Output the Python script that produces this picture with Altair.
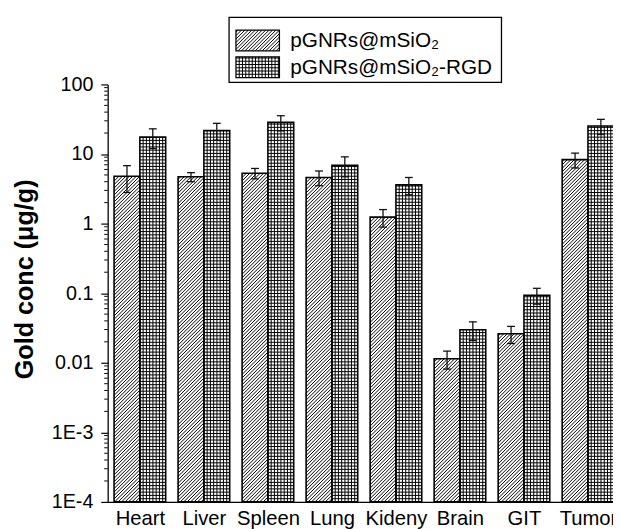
import math
import json
import altair as alt
import pandas as pd

# ---------------- data ----------------
organs = ["Heart", "Liver", "Spleen", "Lung", "Kideny", "Brain", "GIT", "Tumor"]
series_names = ["pGNRs@mSiO\u2082", "pGNRs@mSiO\u2082-RGD"]
plain_mean = [4.8, 4.7, 5.3, 4.6, 1.24, 0.0114, 0.0261, 8.3]
plain_err = [2.0, 0.7, 0.9, 1.1, 0.35, 0.0033, 0.0072, 2.0]
rgd_mean = [17.5, 21.7, 28.5, 6.9, 3.6, 0.0298, 0.0935, 25.3]
rgd_err = [5.5, 5.9, 7.0, 2.2, 1.0, 0.0089, 0.024, 6.2]
y_tick_values = [1e-4, 1e-3, 1e-2, 0.1, 1, 10, 100]
y_tick_labels = ["1E-4", "1E-3", "0.01", "0.1", "1", "10", "100"]
y_title = "Gold conc (\u03bcg/g)"

# ---------------- layout ----------------
FONT = "Liberation Sans"
PAD_L, PAD_T, PAD_R, PAD_B = 101, 74, 0, 24
W, H = 512, 423
STEP = 64.86          # px per organ group
OUTER = 0.1           # outer padding (in steps)
BAR = 0.403           # bar width (in steps)
YMIN, YMAX = y_tick_values[0], y_tick_values[-1]
LMIN = math.log10(YMIN)
DEC = math.log10(YMAX) - LMIN
DIAG_P = 3.5
GRID_P = 3.3


def ypx(v):
    return (math.log10(v) - LMIN) / DEC * H


def yval(p):
    return 10 ** (p / H * DEC + LMIN)


def hatch_diag(x0, x1, y0, y1, p):
    out = []
    dmin, dmax = x0 - y1, x1 - y0
    k = math.ceil(dmin / p)
    while k * p < dmax:
        d = k * p
        xs = max(x0, y0 + d)
        xe = min(x1, y1 + d)
        if xe - xs > 0.05:
            out.append((xs, xs - d, xe, xe - d))
        k += 1
    return out


def hatch_grid(x0, x1, y0, y1, g):
    out = []
    x = x0 + g
    while x < x1 - 0.4:
        out.append((x, y0, x, y1))
        x += g
    y = y0 + g
    while y < y1 - 0.4:
        out.append((x0, y, x1, y))
        y += g
    return out


rows = []
for s, (means, errs) in enumerate([(plain_mean, plain_err), (rgd_mean, rgd_err)]):
    for i, o in enumerate(organs):
        u0 = i + OUTER + s * BAR
        rows.append(dict(organ=o, series=series_names[s], s=s, u0=u0, u1=u0 + BAR,
                         uc=u0 + BAR / 2, c0=u0 + BAR / 2 - 4 / STEP, c1=u0 + BAR / 2 + 4 / STEP,
                         v=means[i], lo=means[i] - errs[i], hi=means[i] + errs[i], base=YMIN))
bars = pd.DataFrame(rows)

diag_rows, grid_rows = [], []
for r in bars.itertuples():
    x0, x1 = r.u0 * STEP, r.u1 * STEP
    y1 = ypx(r.v)
    if r.s == 0:
        for a, b, c, d in hatch_diag(x0, x1, 0, y1, DIAG_P):
            diag_rows.append(dict(hx0=a / STEP, hy0=yval(b), hx1=c / STEP, hy1=yval(d)))
    else:
        for a, b, c, d in hatch_grid(x0, x1, 0, y1, GRID_P):
            grid_rows.append(dict(hx0=a / STEP, hy0=yval(b), hx1=c / STEP, hy1=yval(d)))
diag_df = pd.DataFrame(diag_rows)
grid_df = pd.DataFrame(grid_rows)

minor_df = pd.DataFrame({"mv": [m * 10 ** e for e in range(int(LMIN), int(math.log10(YMAX)))
                                for m in range(2, 10)]})

# legend (pixel positions relative to plot origin)
leg = pd.DataFrame({
    "label": series_names,
    "sx0": [130, 130], "sx1": [174, 174],
    "sy0": [-55, -28], "sy1": [-34, -7],
    "tx": [185, 185], "ty": [-38, -11],
})
leg_box = pd.DataFrame({"bx0": [123], "bx1": [399], "by0": [-68], "by1": [-2]})
leg_hatch = []
for j, r in enumerate(leg.itertuples()):
    if j == 0:
        segs = hatch_diag(r.sx0, r.sx1, -r.sy1, -r.sy0, DIAG_P)
    else:
        segs = hatch_grid(r.sx0, r.sx1, -r.sy1, -r.sy0, GRID_P)
    for a, b, c, d in segs:
        leg_hatch.append(dict(j=j, lx0=a, ly0=-b, lx1=c, ly1=-d))
leg_hatch = pd.DataFrame(leg_hatch)

# ---------------- scales / axes ----------------
xscale = alt.Scale(domain=[0, W / STEP], nice=False, zero=False)
yscale = alt.Scale(type="log", domain=[YMIN, YMAX], nice=False)
x_axis = alt.Axis(values=[i + OUTER + BAR for i in range(len(organs))],
                  labelExpr=f"{json.dumps(organs)}[floor(datum.value)]",
                  title=None, ticks=False, tickSize=0, labelFontSize=20.5, labelPadding=7,
                  labelAngle=0, labelFlush=False, labelOverlap=False, domainWidth=1.3)
y_axis = alt.Axis(values=y_tick_values,
                  labelExpr=f"{json.dumps(y_tick_labels)}[round(log(datum.value)/LN10)+{-int(LMIN)}]",
                  title=y_title, titleFontSize=25.5, titleFontWeight="bold", titleAngle=270,
                  titleX=-76, titleY=197, titleAlign="center", titleBaseline="alphabetic",
                  tickSize=7, tickWidth=1.2, domainWidth=1.3, labelFontSize=20, labelPadding=8,
                  labelFlush=False, labelOverlap=False)


def X(f):
    return alt.X(f, type="quantitative", scale=xscale, axis=x_axis)


def Y(f):
    return alt.Y(f, type="quantitative", scale=yscale, axis=y_axis)


def PX(f):
    return alt.X(f, type="quantitative", scale=None, axis=None)


def PY(f):
    return alt.Y(f, type="quantitative", scale=None, axis=None)


base_bars = alt.Chart(bars)
fill_layer = base_bars.mark_rect(fill="white").encode(x=X("u0"), x2="u1", y=Y("base"), y2="v")
diag_layer = alt.Chart(diag_df).mark_rule(color="black", strokeWidth=1.0).encode(
    x=X("hx0"), x2="hx1", y=Y("hy0"), y2="hy1")
grid_layer = alt.Chart(grid_df).mark_rule(color="black", strokeWidth=1.0).encode(
    x=X("hx0"), x2="hx1", y=Y("hy0"), y2="hy1")
outline_layer = base_bars.mark_rect(fillOpacity=0, stroke="black", strokeWidth=1.6).encode(
    x=X("u0"), x2="u1", y=Y("base"), y2="v")
err_layer = base_bars.mark_rule(color="#111", strokeWidth=1.3).encode(x=X("uc"), y=Y("lo"), y2="hi")
cap_hi = base_bars.mark_rule(color="#111", strokeWidth=1.3).encode(x=X("c0"), x2="c1", y=Y("hi"))
cap_lo = base_bars.mark_rule(color="#111", strokeWidth=1.3).encode(x=X("c0"), x2="c1", y=Y("lo"))
minor_layer = alt.Chart(minor_df).mark_rule(color="black", strokeWidth=1).encode(
    y=Y("mv"), x=alt.value(-3.5), x2=alt.value(0))

box_layer = alt.Chart(leg_box).mark_rect(fill="white", stroke="black", strokeWidth=1.3).encode(
    x=PX("bx0"), x2="bx1", y=PY("by0"), y2="by1")
sw_fill = alt.Chart(leg).mark_rect(fill="white").encode(x=PX("sx0"), x2="sx1", y=PY("sy0"), y2="sy1")
sw_hatch = alt.Chart(leg_hatch).mark_rule(color="black", strokeWidth=1.0).encode(
    x=PX("lx0"), x2="lx1", y=PY("ly0"), y2="ly1")
sw_out = alt.Chart(leg).mark_rect(fillOpacity=0, stroke="black", strokeWidth=1.3).encode(
    x=PX("sx0"), x2="sx1", y=PY("sy0"), y2="sy1")
leg_text = alt.Chart(leg).mark_text(align="left", baseline="alphabetic", fontSize=21, font=FONT,
                                    color="black").encode(x=PX("tx"), y=PY("ty"), text="label:N")

chart = alt.layer(
    fill_layer, diag_layer, grid_layer, outline_layer, err_layer, cap_hi, cap_lo, minor_layer,
    box_layer, sw_fill, sw_hatch, sw_out, leg_text,
).properties(
    width=W, height=H,
    autosize=alt.AutoSizeParams(type="none"),
    padding={"left": PAD_L, "top": PAD_T, "right": PAD_R, "bottom": PAD_B},
    background="white",
).configure_view(stroke=None).configure_axis(
    domainColor="black", tickColor="black", labelColor="black", titleColor="black",
    labelFont=FONT, titleFont=FONT, grid=False,
)

chart.save("out.html", embed_options={"renderer": "svg", "actions": False})
